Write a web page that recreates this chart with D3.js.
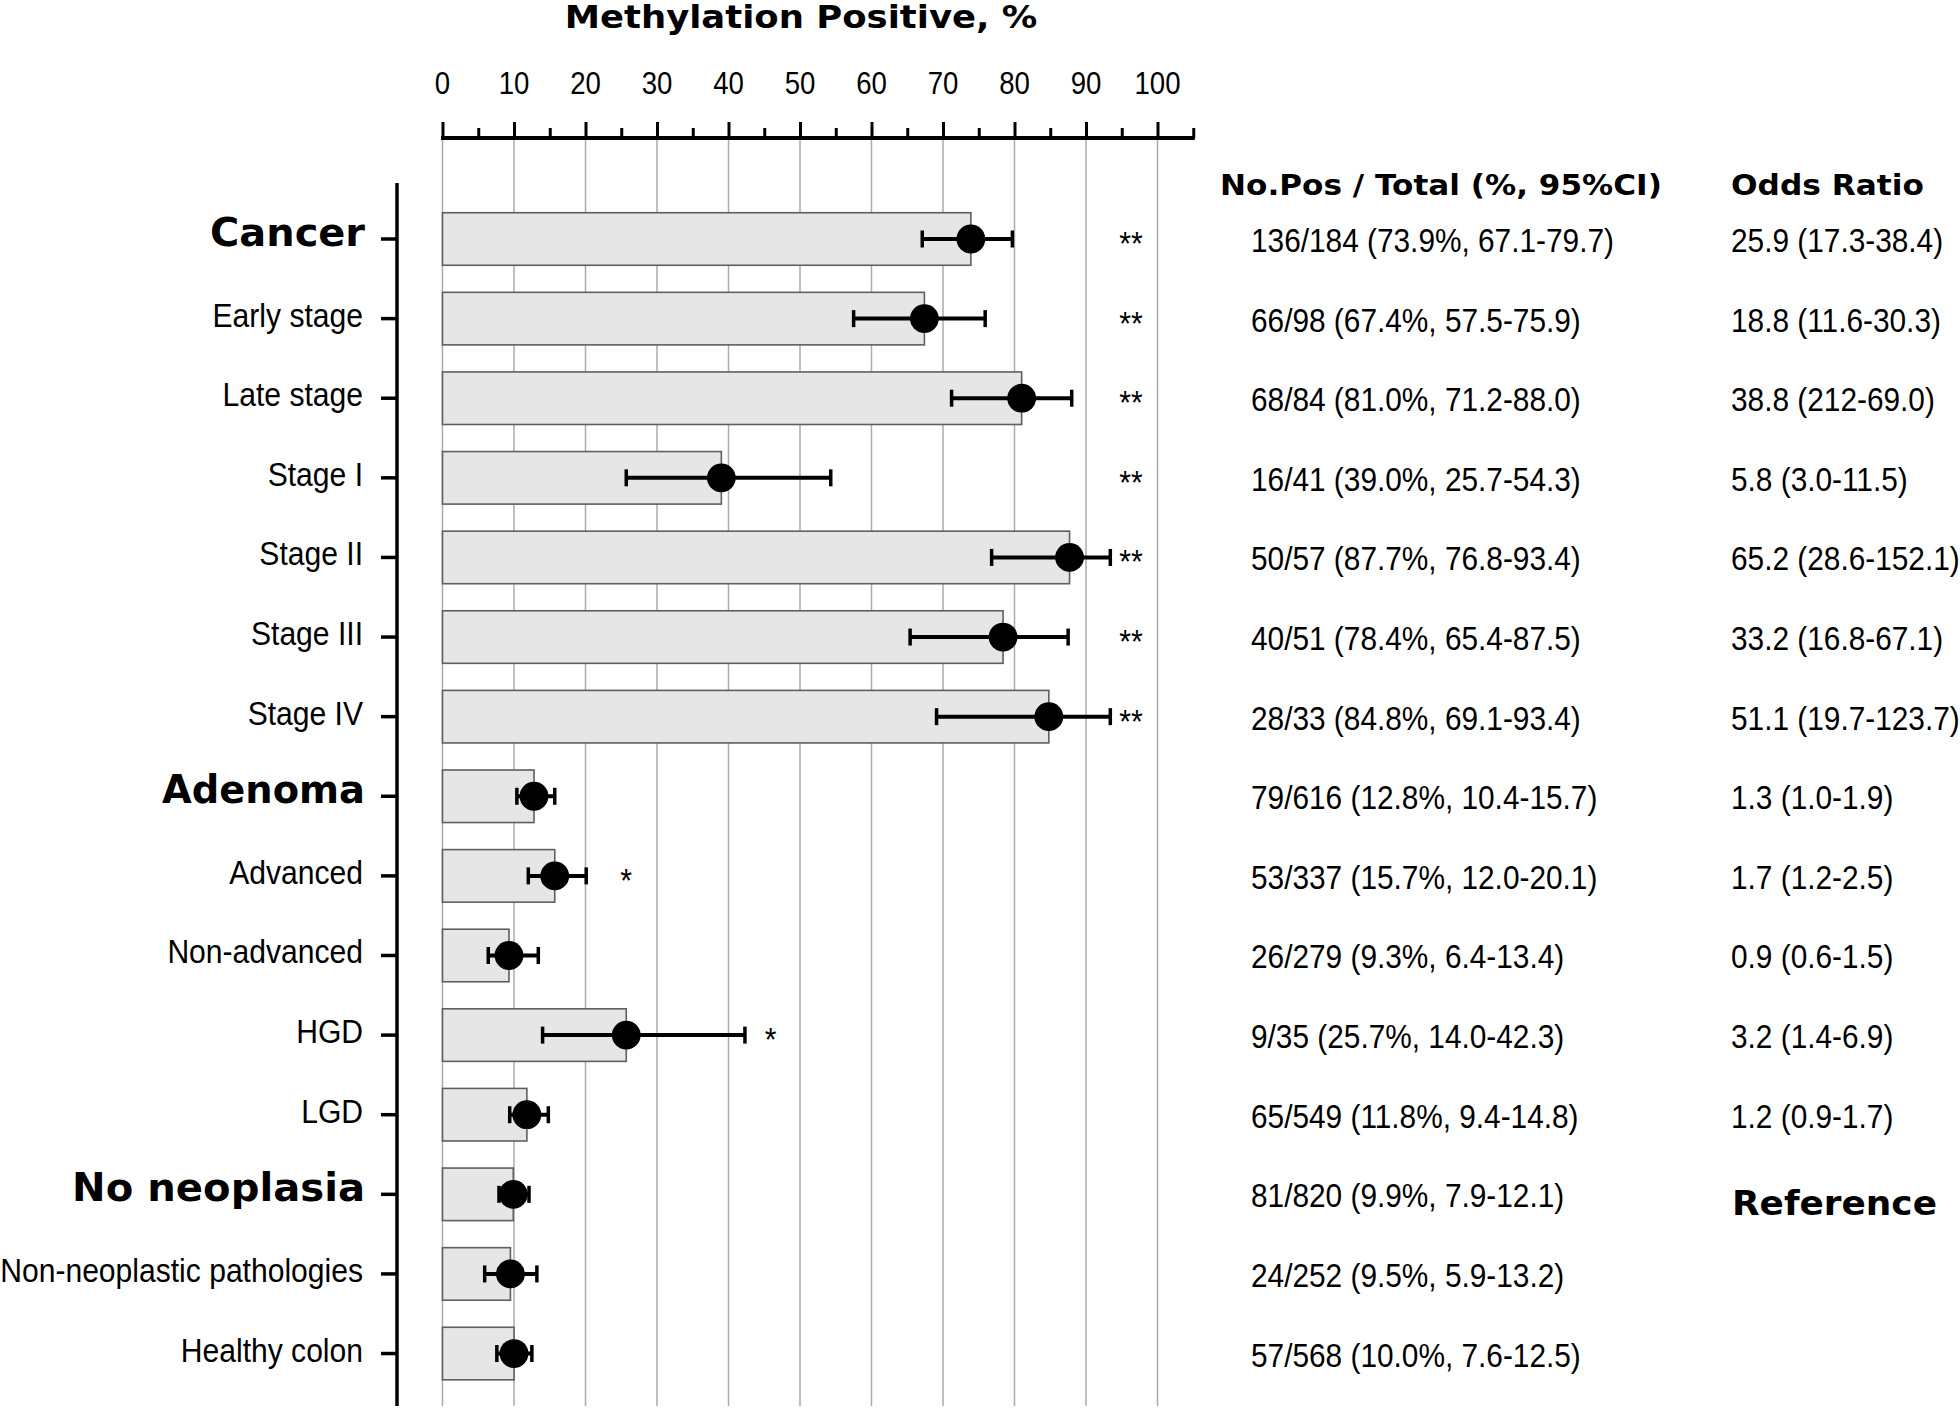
<!DOCTYPE html>
<html>
<head>
<meta charset="utf-8">
<script src="https://cdn.jsdelivr.net/npm/d3@7"></script>
<style>
  html, body { margin: 0; padding: 0; background: #fff; }
  svg { display: block; }
</style>
</head>
<body>
<svg id="chart" width="1960" height="1414"></svg>
<script>
// ---------------- DATA ----------------
const categories = ["Cancer", "Early stage", "Late stage", "Stage I", "Stage II", "Stage III", "Stage IV",
  "Adenoma", "Advanced", "Non-advanced", "HGD", "LGD",
  "No neoplasia", "Non-neoplastic pathologies", "Healthy colon"];
const groupRows = ["Cancer", "Adenoma", "No neoplasia"];
const pct    = [73.9, 67.4, 81.0, 39.0, 87.7, 78.4, 84.8, 12.8, 15.7, 9.3, 25.7, 11.8, 9.9, 9.5, 10.0];
const ciLow  = [67.1, 57.5, 71.2, 25.7, 76.8, 65.4, 69.1, 10.4, 12.0, 6.4, 14.0, 9.4, 7.9, 5.9, 7.6];
const ciHigh = [79.7, 75.9, 88.0, 54.3, 93.4, 87.5, 93.4, 15.7, 20.1, 13.4, 42.3, 14.8, 12.1, 13.2, 12.5];
const sigMark = ["**", "**", "**", "**", "**", "**", "**", "", "*", "", "*", "", "", "", ""];
const sigAt   = [96.3, 96.3, 96.3, 96.3, 96.3, 96.3, 96.3, null, 25.7, null, 45.9, null, null, null, null];
const countText = [
  "136/184 (73.9%, 67.1-79.7)", "66/98 (67.4%, 57.5-75.9)", "68/84 (81.0%, 71.2-88.0)",
  "16/41 (39.0%, 25.7-54.3)", "50/57 (87.7%, 76.8-93.4)", "40/51 (78.4%, 65.4-87.5)",
  "28/33 (84.8%, 69.1-93.4)", "79/616 (12.8%, 10.4-15.7)", "53/337 (15.7%, 12.0-20.1)",
  "26/279 (9.3%, 6.4-13.4)", "9/35 (25.7%, 14.0-42.3)", "65/549 (11.8%, 9.4-14.8)",
  "81/820 (9.9%, 7.9-12.1)", "24/252 (9.5%, 5.9-13.2)", "57/568 (10.0%, 7.6-12.5)"];
const oddsText = [
  "25.9 (17.3-38.4)", "18.8 (11.6-30.3)", "38.8 (212-69.0)", "5.8 (3.0-11.5)",
  "65.2 (28.6-152.1)", "33.2 (16.8-67.1)", "51.1 (19.7-123.7)", "1.3 (1.0-1.9)",
  "1.7 (1.2-2.5)", "0.9 (0.6-1.5)", "3.2 (1.4-6.9)", "1.2 (0.9-1.7)", "Reference", "", ""];
const referenceRow = "No neoplasia";
const xMajorTicks = [0, 10, 20, 30, 40, 50, 60, 70, 80, 90, 100];
const xMinorTicks = [5, 15, 25, 35, 45, 55, 65, 75, 85, 95, 105];
const titleText = "Methylation Positive, %";
const headerCount = "No.Pos / Total (%, 95%CI)";
const headerOdds = "Odds Ratio";

// ---------------- LAYOUT ----------------
const svg = d3.select("#chart");
svg.append("rect").attr("width", 1960).attr("height", 1414).attr("fill", "#fff");

const REG = "'Liberation Sans', Arial, Helvetica, sans-serif";
const BOLD = "'DejaVu Sans', 'Liberation Sans', sans-serif";
const COND = 0.89;

const x = d3.scaleLinear().domain([0, 105]).range([442.5, 442.5 + 105 * 7.15]);
const step = 79.61;
const y = d3.scaleBand().domain(categories)
  .range([239 - step / 2, 239 - step / 2 + categories.length * step])
  .paddingInner(0.34).paddingOuter(0.17);
const yc = d => y(d) + y.bandwidth() / 2;

const axisY = 138, plotBottom = 1406;

// helper: text with horizontal scaling
function addText(g, str, tx, ty, opts) {
  const t = g.append("text")
    .attr("x", 0).attr("y", 0)
    .attr("font-family", opts.family || REG)
    .attr("font-weight", opts.weight || "normal")
    .attr("font-size", opts.size)
    .attr("text-anchor", opts.anchor || "start")
    .attr("fill", "#000")
    .text(str);
  let sx = opts.scale || COND;
  if (opts.width) {
    const w = t.node().getComputedTextLength();
    if (w > 0) sx = opts.width / w;
  }
  t.attr("transform", `translate(${tx},${ty}) scale(${sx},1)`);
  return t;
}

// gridlines
svg.append("g").selectAll("line").data(xMajorTicks).join("line")
  .attr("x1", d => x(d)).attr("x2", d => x(d))
  .attr("y1", axisY).attr("y2", plotBottom)
  .attr("stroke", "#ababab").attr("stroke-width", 1.5);

// top axis
const gx = svg.append("g").attr("transform", `translate(0,${axisY})`);
gx.call(d3.axisTop(x).tickValues(xMajorTicks).tickSize(16).tickSizeOuter(0).tickFormat(""));
gx.select(".domain").attr("stroke", "#000").attr("stroke-width", 4)
  .attr("d", `M${x(0) - 1.5},0H${x(105) + 1.5}`);
gx.selectAll(".tick line").attr("stroke", "#000").attr("stroke-width", 3);
const gxMinor = svg.append("g").attr("transform", `translate(0,${axisY})`);
gxMinor.call(d3.axisTop(x).tickValues(xMinorTicks).tickSize(10).tickSizeOuter(0).tickFormat(""));
gxMinor.select(".domain").remove();
gxMinor.selectAll(".tick line").attr("stroke", "#000").attr("stroke-width", 3);
// tick labels
const gTickLab = svg.append("g");
xMajorTicks.forEach(v => addText(gTickLab, String(v), x(v), 94, { size: 31, anchor: "middle" }));

// title
addText(svg, titleText, 801, 28, { family: BOLD, weight: "bold", size: 31.5, anchor: "middle", width: 473 });

// bars
svg.append("g").selectAll("rect").data(categories).join("rect")
  .attr("x", x(0)).attr("y", d => y(d))
  .attr("width", (d, i) => x(pct[i]) - x(0))
  .attr("height", y.bandwidth())
  .attr("fill", "#e6e6e6").attr("stroke", "#5f5f5f").attr("stroke-width", 1.6);

// error bars
const gErr = svg.append("g").attr("stroke", "#000");
categories.forEach((c, i) => {
  const cy = yc(c);
  gErr.append("line").attr("x1", x(ciLow[i])).attr("x2", x(ciHigh[i]))
    .attr("y1", cy).attr("y2", cy).attr("stroke-width", 4);
  [ciLow[i], ciHigh[i]].forEach(v => {
    gErr.append("line").attr("x1", x(v)).attr("x2", x(v))
      .attr("y1", cy - 8.5).attr("y2", cy + 8.5).attr("stroke-width", 3.5);
  });
});

// dots
svg.append("g").selectAll("circle").data(categories).join("circle")
  .attr("cx", (d, i) => x(pct[i])).attr("cy", d => yc(d))
  .attr("r", 14.4).attr("fill", "#000");

// significance marks
const gSig = svg.append("g");
categories.forEach((c, i) => {
  if (sigMark[i]) addText(gSig, sigMark[i], x(sigAt[i]), yc(c) + 16, { size: 34, anchor: "middle" });
});

// y axis
const gy = svg.append("g").attr("transform", `translate(397,0)`);
gy.call(d3.axisLeft(y).tickSize(16).tickSizeOuter(0).tickFormat(""));
gy.select(".domain").attr("stroke", "#000").attr("stroke-width", 3.5).attr("d", `M0,183V${plotBottom}`);
gy.selectAll(".tick line").attr("stroke", "#000").attr("stroke-width", 3.5);

// category labels
const groupWidths = { "Cancer": 155, "Adenoma": 203, "No neoplasia": 293 };
const gLab = svg.append("g");
categories.forEach(c => {
  if (groupRows.includes(c)) {
    addText(gLab, c, 365, yc(c) + 7, { family: BOLD, weight: "bold", size: 38.5, anchor: "end", width: groupWidths[c] });
  } else {
    addText(gLab, c, 363, yc(c) + 8, { size: 33.8, anchor: "end" });
  }
});

// table headers
addText(svg, headerCount, 1220, 195, { family: BOLD, weight: "bold", size: 27.5, width: 442 });
addText(svg, headerOdds, 1731, 195, { family: BOLD, weight: "bold", size: 27.5, width: 193 });

// table values
const gTab = svg.append("g");
categories.forEach((c, i) => {
  addText(gTab, countText[i], 1251, yc(c) + 13, { size: 33.5 });
  if (oddsText[i]) {
    if (c === referenceRow) {
      addText(gTab, oddsText[i], 1732, yc(c) + 21, { family: BOLD, weight: "bold", size: 33, width: 205 });
    } else {
      addText(gTab, oddsText[i], 1731, yc(c) + 13, { size: 33.5 });
    }
  }
});
</script>
</body>
</html>
